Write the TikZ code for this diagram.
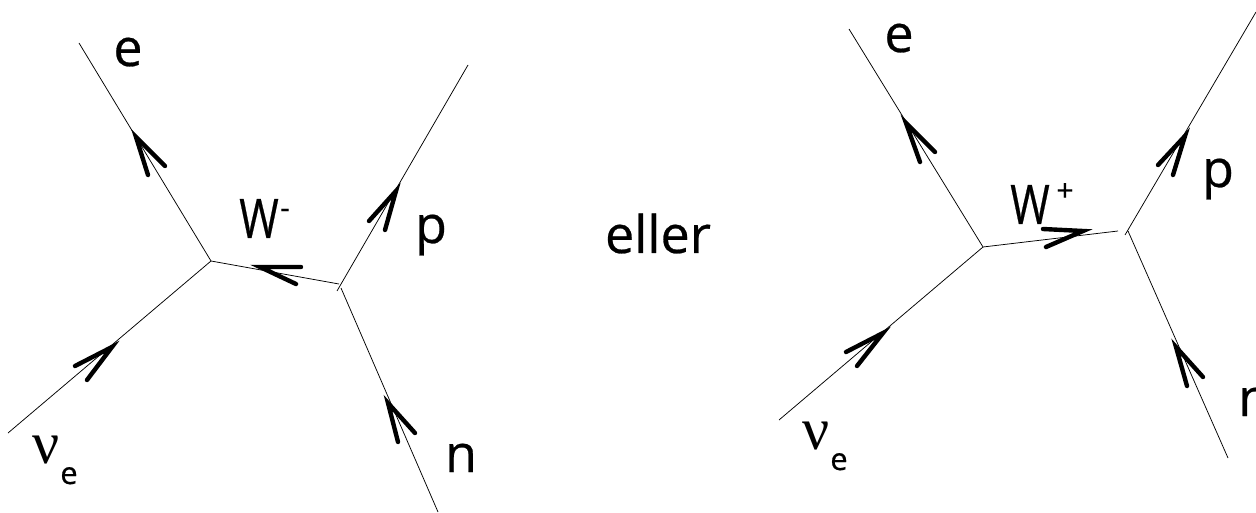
\documentclass[tikz,border=0pt]{standalone}
\usepackage{graphicx}
\usepackage{fontspec}
\setmainfont{Open Sans}[RawFeature={embolden=0.5}]
\newfontfamily\nufont{Liberation Serif}
\newcommand{\narrowW}{\scalebox{0.82}[1.05]{W}}
\tikzset{
  line/.style={line width=0.75pt,black},
  chevron/.style={line width=4.4pt,black,line cap=round,line join=miter},
  lbl/.style={anchor=base,inner sep=0pt,font=\fontsize{52}{52}\selectfont},
  sub/.style={anchor=base,inner sep=0pt,font=\fontsize{31}{31}\selectfont},
  sup/.style={anchor=base,inner sep=0pt,font=\fontsize{30}{30}\selectfont},
  nulbl/.style={anchor=base,inner sep=0pt,font=\fontsize{60}{60}\selectfont\nufont}
}
\begin{document}
\begin{tikzpicture}[x=1pt,y=-1pt]
\useasboundingbox (0,0) rectangle (1256,513);
% left diagram
\coordinate (Le) at (79,43);
\coordinate (LA) at (211,261);
\coordinate (Lnu) at (8,433);
\coordinate (LB) at (339,284);
\coordinate (Lp) at (468,65);
\coordinate (Lpb) at (337,291);
\coordinate (Ln) at (438,512);
\coordinate (Lnb) at (341,288);
\draw[line] (Le) -- (LA) -- (Lnu);
\draw[line] (LA) -- (LB);
\draw[line] (Lp) -- (Lpb);
\draw[line] (Ln) -- (Lnb);
\draw[chevron] (148,175) -- (136,137) -- (165,166);
\draw[chevron] (75,366) -- (112,347) -- (87,380);
\draw[chevron] (301,267) -- (260,267) -- (296,284);
\draw[chevron] (369,221) -- (396,191) -- (385,230);
\draw[chevron] (398,442) -- (388,403) -- (415,433);
\node[lbl] (le) at (128,66) {e};
\node[lbl] (lw) at (259,238) {\narrowW};
\node[sup] (lwm) at (285,218) {-};
\node[lbl] (lpl) at (431,243) {p};
\node[lbl] (lnl) at (461,472) {n};
\node[nulbl] (lnu) at (46,463) {ν};
\node[sub] (lnue) at (69,484) {e};
% middle
\node[lbl] (eller) at (658,253) {eller};
% right diagram
\coordinate (Re) at (849,29);
\coordinate (RA) at (983,247);
\coordinate (Rnu) at (779,420);
\coordinate (RB) at (1118,231);
\coordinate (Rp) at (1256,12);
\coordinate (Rpb) at (1125,235);
\coordinate (Rn) at (1228,458);
\coordinate (Rnb) at (1128,231);
\draw[line] (Re) -- (RA) -- (Rnu);
\draw[line] (RA) -- (RB);
\draw[line] (Rp) -- (Rpb);
\draw[line] (Rn) -- (Rnb);
\draw[chevron] (920,162) -- (906,123) -- (935,152);
\draw[chevron] (846,352) -- (883,333) -- (857,366);
\draw[chevron] (1043,229) -- (1083,231) -- (1046,247);
\draw[chevron] (1158,165) -- (1185,136) -- (1173,175);
\draw[chevron] (1187,386) -- (1176,347) -- (1203,377);
\node[lbl] (re) at (899,52) {e};
\node[lbl] (rw) at (1030,224) {\narrowW};
\node[sup] (rwp) at (1065,201) {+};
\node[lbl] (rpl) at (1218,187) {p};
\node[lbl,anchor=base west] (rnl) at (1238,416) {n};
\node[nulbl] (rnu) at (816,449) {ν};
\node[sub] (rnue) at (839,470) {e};
\end{tikzpicture}
\end{document}
